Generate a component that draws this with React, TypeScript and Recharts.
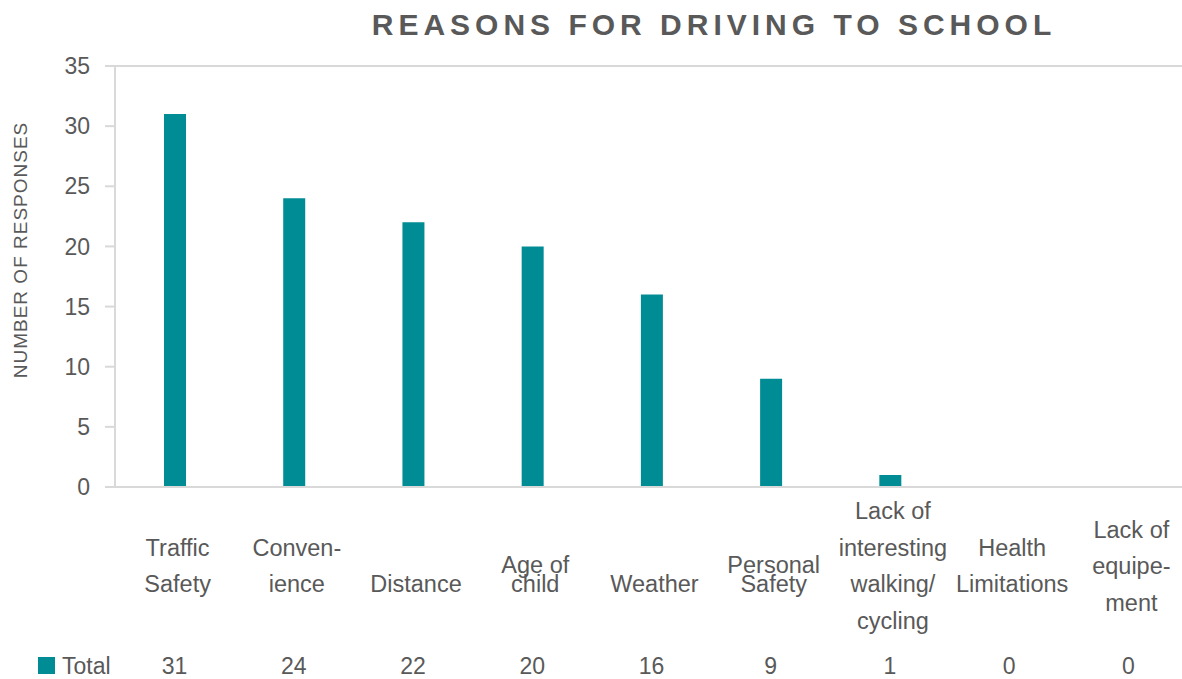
import { BarChart, Bar, XAxis, YAxis, ReferenceLine } from "recharts";

const categories = [
    "Traffic\nSafety",
    "Conven-\nience",
    "Distance",
    "Age of\nchild",
    "Weather",
    "Personal\nSafety",
    "Lack of\ninteresting\nwalking/\ncycling",
    "Health\nLimitations",
    "Lack of\nequipe-\nment",
];
const totals = [31, 24, 22, 20, 16, 9, 1, 0, 0];
const yTicks = [0, 5, 10, 15, 20, 25, 30, 35];
const seriesName = "Total";
// labels that Excel squeezed together
const tightLabels = ["Age of\nchild", "Personal\nSafety"];

const chartData = categories.map((c, i) => ({ category: c, value: totals[i] }));

const TEXT = "#595959";
const AXIS = "#d9d9d9";
const TEAL = "#008C95";
const FONT = "'Liberation Sans', Arial, sans-serif";

/*
category labels + the data table row underneath
*/
function CategoryTick(props: any) {
    const { x, payload, index } = props;
    const label: string = payload.value;
    const lines = label.split("\n");
    let ys: number[];
    if (lines.length === 1) ys = [592];
    else if (tightLabels.includes(label)) ys = [573, 592];
    else ys = lines.map((_, i) => 574 + (i - (lines.length - 1) / 2) * 36.5);

    return (
        <g>
            {lines.map((l, i) => (
                <text key={i} x={x + 3} y={ys[i]} textAnchor="middle" fill={TEXT} fontSize={23.5} fontFamily={FONT}>
                    {l}
                </text>
            ))}
            <text x={x} y={674} textAnchor="middle" fill={TEXT} fontSize={23} fontFamily={FONT}>
                {totals[index]}
            </text>
            {index === 0 && (
                <g>
                    <rect x={38} y={657} width={17} height={17} fill={TEAL} />
                    <text x={62} y={674} fill={TEXT} fontSize={23} fontFamily={FONT}>
                        {seriesName}
                    </text>
                </g>
            )}
        </g>
    );
}

function App() {
    return (
        <div style={{ position: "fixed", left: 0, top: 0, width: 1182, height: 679, overflow: "hidden", background: "#fff" }}>
            <div style={{
                position: "absolute", left: 244, top: 10, width: 940, textAlign: "center",
                fontFamily: FONT, fontWeight: 700, fontSize: 30, lineHeight: "30px",
                letterSpacing: 5, color: TEXT,
            }}>
                REASONS FOR DRIVING TO SCHOOL
            </div>
            <BarChart width={1190} height={679} data={chartData}
                margin={{ top: 66, right: 2, left: 0, bottom: 0 }}>

                <XAxis dataKey="category"
                    interval={0}
                    height={192}
                    tickLine={false}
                    axisLine={{ stroke: AXIS, strokeWidth: 2 }}
                    tick={<CategoryTick />} />

                <YAxis domain={[0, 35]}
                    ticks={yTicks}
                    width={115}
                    tickSize={10}
                    tickMargin={15}
                    axisLine={{ stroke: AXIS, strokeWidth: 2 }}
                    tickLine={{ stroke: AXIS, strokeWidth: 2 }}
                    tick={{ fill: TEXT, fontSize: 23, fontFamily: FONT }}
                    label={{
                        content: () => (
                            <text x={27} y={250} transform="rotate(-90 27 250)" textAnchor="middle"
                                fill={TEXT} fontSize={19} fontFamily={FONT} letterSpacing={1}>
                                NUMBER OF RESPONSES
                            </text>
                        ),
                    }} />

                <ReferenceLine y={35} stroke={AXIS} strokeWidth={2} />

                <Bar dataKey="value" name={seriesName} fill={TEAL} barSize={22} isAnimationActive={false} />
            </BarChart>
        </div>
    );
}

export default App;
